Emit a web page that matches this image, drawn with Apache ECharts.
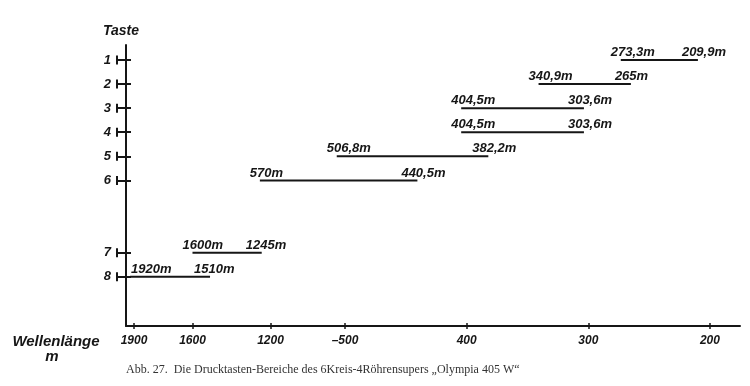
<!DOCTYPE html>
<html>
<head>
<meta charset="utf-8">
<script src="https://cdn.jsdelivr.net/npm/echarts@6/dist/echarts.min.js"></script>
<style>html,body{margin:0;padding:0;background:#fff}#c{width:750px;height:386px}</style>
</head>
<body>
<div id="c"></div>
<script>
// Keys (Tasten) and their vertical slots (gap between 6 and 7)
const keyNames = ['1', '2', '3', '4', '5', '6', '7', '8'];
const keySlots = [1, 2, 3, 4, 5, 6, 9, 10];
// Medium-wave ranges, keys 1-6 (m)
const mwKeys = ['1', '2', '3', '4', '5', '6'];
const mwStart = [273.3, 340.9, 404.5, 404.5, 506.8, 570];
const mwEnd = [209.9, 265, 303.6, 303.6, 382.2, 440.5];
// Long-wave ranges, keys 7-8 (m)
const lwKeys = ['7', '8'];
const lwStart = [1600, 1920];
const lwEnd = [1245, 1510];
// Axis ticks
const lwTicks = [1900, 1600, 1200];
const mwTicks = [500, 400, 300, 200];
const tickPrefix = { 500: '\u2013' };

const INK = '#161616';
const FONT = "'Liberation Sans', Arial, sans-serif";

function fmt(v) { return String(v).replace('.', ',') + 'm'; }
function slotOf(k) { return keySlots[keyNames.indexOf(k)]; }

const lwData = lwKeys.map((k, i) => [lwStart[i], lwEnd[i], slotOf(k)]);
const mwData = mwKeys.map((k, i) => [mwStart[i], mwEnd[i], slotOf(k)]);

function renderRange(params, api) {
  const a = api.value(0), b = api.value(1), y = api.value(2);
  const s = api.coord([a, y]);
  const e = api.coord([b, y]);
  const font = 'italic bold 13px ' + FONT;
  return {
    type: 'group',
    children: [
      { type: 'line', shape: { x1: s[0], y1: s[1], x2: e[0], y2: e[1] },
        style: { stroke: INK, lineWidth: 2 } },
      { type: 'text', x: Math.max(s[0] - 10, 131), y: s[1] - 1,
        style: { text: fmt(a), font: font, fill: INK, textAlign: 'left', textVerticalAlign: 'bottom' } },
      { type: 'text', x: e[0] - 16, y: e[1] - 1,
        style: { text: fmt(b), font: font, fill: INK, textAlign: 'left', textVerticalAlign: 'bottom' } }
    ]
  };
}

const labelStyle = { color: INK, fontFamily: FONT, fontStyle: 'italic', fontWeight: 'bold', fontSize: 12 };
const yMin = 0.38, yMax = 12.04;
const lwMin = 1023, lwMax = 1941;
const mwMin = 175.3, mwMax = 532.9;

function xMain(grid, min, max, ticks) {
  return {
    type: 'value', gridIndex: grid, position: 'bottom', inverse: true, min: min, max: max,
    axisLine: { show: true, lineStyle: { color: INK, width: 2 } },
    axisTick: { show: true, length: 3, customValues: ticks, lineStyle: { color: INK, width: 1.5 } },
    axisLabel: Object.assign({ show: true, margin: 9, customValues: ticks,
      formatter: v => (tickPrefix[v] || '') + v }, labelStyle),
    splitLine: { show: false }
  };
}
function xInner(grid, min, max, ticks) {
  return {
    type: 'value', gridIndex: grid, position: 'bottom', inverse: true, min: min, max: max,
    axisLine: { show: false },
    axisTick: { show: true, inside: true, length: 3, customValues: ticks, lineStyle: { color: INK, width: 1.5 } },
    axisLabel: { show: false }, splitLine: { show: false }
  };
}

const option = {
  animation: false,
  backgroundColor: '#fff',
  grid: [
    { left: 126, top: 45, width: 179, height: 281 },
    { left: 305, top: 45, width: 435, height: 281 }
  ],
  xAxis: [
    xMain(0, lwMin, lwMax, lwTicks),
    xInner(0, lwMin, lwMax, lwTicks),
    xMain(1, mwMin, mwMax, mwTicks),
    xInner(1, mwMin, mwMax, mwTicks)
  ],
  yAxis: [
    {
      type: 'value', gridIndex: 0, position: 'left', inverse: true, min: yMin, max: yMax,
      axisLine: { show: true, lineStyle: { color: INK, width: 2 } },
      axisTick: { show: true, length: 9, customValues: keySlots, lineStyle: { color: INK, width: 2 } },
      axisLabel: {
        show: true, margin: 8, customValues: keySlots,
        formatter: v => '{n|' + keyNames[keySlots.indexOf(v)] + '}{b| }',
        rich: {
          n: Object.assign({ padding: [0, 5, 0, 0] }, labelStyle, { fontSize: 13 }),
          b: { width: 2, height: 9, backgroundColor: INK, fontSize: 9 }
        }
      },
      splitLine: { show: false }
    },
    {
      type: 'value', gridIndex: 0, position: 'left', inverse: true, min: yMin, max: yMax,
      axisLine: { show: false },
      axisTick: { show: true, inside: true, length: 5, customValues: keySlots, lineStyle: { color: INK, width: 2 } },
      axisLabel: { show: false }, splitLine: { show: false }
    },
    {
      type: 'value', gridIndex: 1, inverse: true, min: yMin, max: yMax, show: false
    }
  ],
  graphic: [
    { type: 'text', x: 121, y: 31, style: { text: 'Taste', font: 'italic bold 14px ' + FONT, fill: INK, textAlign: 'center', textVerticalAlign: 'middle' } },
    { type: 'text', x: 56, y: 342, style: { text: 'Wellenlänge', font: 'italic bold 15px ' + FONT, fill: INK, textAlign: 'center', textVerticalAlign: 'middle' } },
    { type: 'text', x: 52, y: 357, style: { text: 'm', font: 'italic bold 15px ' + FONT, fill: INK, textAlign: 'center', textVerticalAlign: 'middle' } },
    { type: 'text', x: 126, y: 370, style: { text: 'Abb. 27.  Die Drucktasten-Bereiche des 6Kreis-4Röhrensupers \u201EOlympia 405 W\u201C', font: '12px "Liberation Serif", "DejaVu Serif", serif', fill: '#333', textAlign: 'left', textVerticalAlign: 'middle' } }
  ],
  series: [
    { type: 'custom', coordinateSystem: 'cartesian2d', xAxisIndex: 0, yAxisIndex: 0,
      renderItem: renderRange, encode: { x: [0, 1], y: 2 }, data: lwData, clip: false, silent: true },
    { type: 'custom', coordinateSystem: 'cartesian2d', xAxisIndex: 2, yAxisIndex: 2,
      renderItem: renderRange, encode: { x: [0, 1], y: 2 }, data: mwData, clip: false, silent: true }
  ]
};

const chart = echarts.init(document.getElementById('c'), null, { renderer: 'canvas' });
chart.setOption(option);
</script>
</body>
</html>
